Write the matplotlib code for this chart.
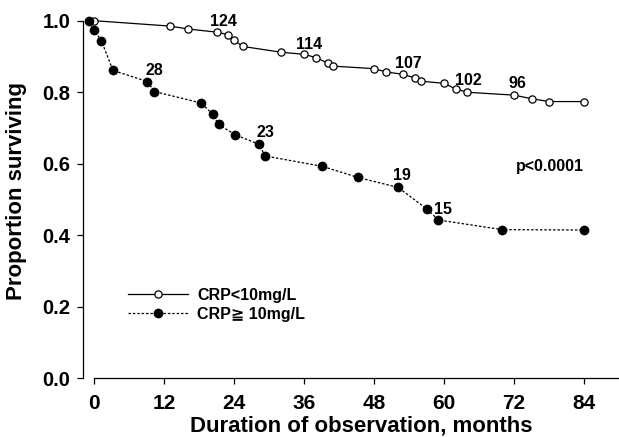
import matplotlib
matplotlib.use("Agg")
import matplotlib.pyplot as plt

plt.rcParams['font.family'] = ['Liberation Sans', 'DejaVu Sans']
plt.rcParams['font.weight'] = 'bold'

# CRP < 10 mg/L (open circles)
low_months = [0, 13, 16, 21, 23, 24, 25.5, 32, 36, 38, 40, 41, 48, 50, 53, 55, 56,
              60, 62, 64, 72, 75, 78, 84]
low_surv = [1.0, 0.985, 0.977, 0.968, 0.961, 0.945, 0.928, 0.912, 0.906, 0.897, 0.882,
            0.873, 0.866, 0.857, 0.850, 0.840, 0.831, 0.825, 0.809, 0.800, 0.792,
            0.782, 0.774, 0.774]

# CRP >= 10 mg/L (filled circles)
high_months = [-1, 0, 1.2, 3.2, 9.1, 10.3, 18.3, 20.3, 21.3, 24.2, 28.2, 29.3, 39.1,
               45.2, 52.1, 57.1, 59, 70, 84]
high_surv = [1.0, 0.973, 0.944, 0.861, 0.830, 0.802, 0.770, 0.739, 0.710, 0.681, 0.655,
             0.622, 0.593, 0.562, 0.534, 0.473, 0.443, 0.416, 0.415]

# numbers at risk
risk_labels = ['124', '114', '107', '102', '96', '28', '23', '19', '15']
risk_x = [22.1, 36.9, 53.9, 64.2, 72.5, 10.3, 29.3, 52.8, 59.8]
risk_y = [0.997, 0.934, 0.881, 0.834, 0.825, 0.862, 0.687, 0.566, 0.473]

xticks = [0, 12, 24, 36, 48, 60, 72, 84]
yticks = [0.0, 0.2, 0.4, 0.6, 0.8, 1.0]

fig = plt.figure(figsize=(6.19, 4.37), dpi=100)
ax = fig.add_axes([0.1336, 0.1339, 0.8664, 0.8187])

l1, = ax.plot(low_months, low_surv, color='black', lw=0.9, marker='o', ms=5.2,
              mfc='white', mec='black', mew=0.9, clip_on=False, zorder=3)
l2, = ax.plot(high_months, high_surv, color='black', lw=0.9, ls=(0, (2, 1.5)),
              marker='o', ms=6, mfc='black', mec='black', clip_on=False, zorder=3)

for lab, x, y in zip(risk_labels, risk_x, risk_y):
    ax.text(x, y, lab, ha='center', va='center', fontsize=11.5, fontweight='bold')

ax.text(78.2, 0.592, 'p<0.0001', ha='center', va='center', fontsize=11.5,
        fontweight='bold')

leg = ax.legend([l1, l2], ['CRP<10mg/L', 'CRP\u2267 10mg/L'], loc='upper left',
                bbox_to_anchor=(128 / 619, 1 - 288 / 437),
                bbox_transform=fig.transFigure, frameon=False, borderpad=0,
                borderaxespad=0, handlelength=3.75, handletextpad=0.6,
                labelspacing=0.25, prop={'size': 11.5, 'weight': 'bold'})

ax.set_xlim(-2, 90)
ax.set_ylim(0, 1.0)
ax.set_xticks(xticks)
ax.set_yticks(yticks)
ax.set_xticklabels([str(t) for t in xticks], fontsize=15, fontweight='bold')
ax.set_yticklabels(['%.1f' % t for t in yticks], fontsize=14.5, fontweight='bold')
ax.tick_params(axis='both', direction='out', length=4, width=0.9)
ax.tick_params(axis='x', pad=7.5)
ax.tick_params(axis='y', pad=5)

ax.spines['top'].set_visible(False)
ax.spines['right'].set_visible(False)
ax.spines['bottom'].set_bounds(0, 90)
ax.spines['left'].set_bounds(0, 1.0)
for s in ['bottom', 'left']:
    ax.spines[s].set_linewidth(0.9)

ax.set_xlabel('Duration of observation, months', fontsize=16, fontweight='bold')
ax.set_ylabel('Proportion surviving', fontsize=16, fontweight='bold')
ax.xaxis.label.set_va('baseline')
ax.xaxis.set_label_coords(0.52, -0.149)
ax.yaxis.set_label_coords(-0.104, 0.524)

fig.savefig('out.png', dpi=100)
